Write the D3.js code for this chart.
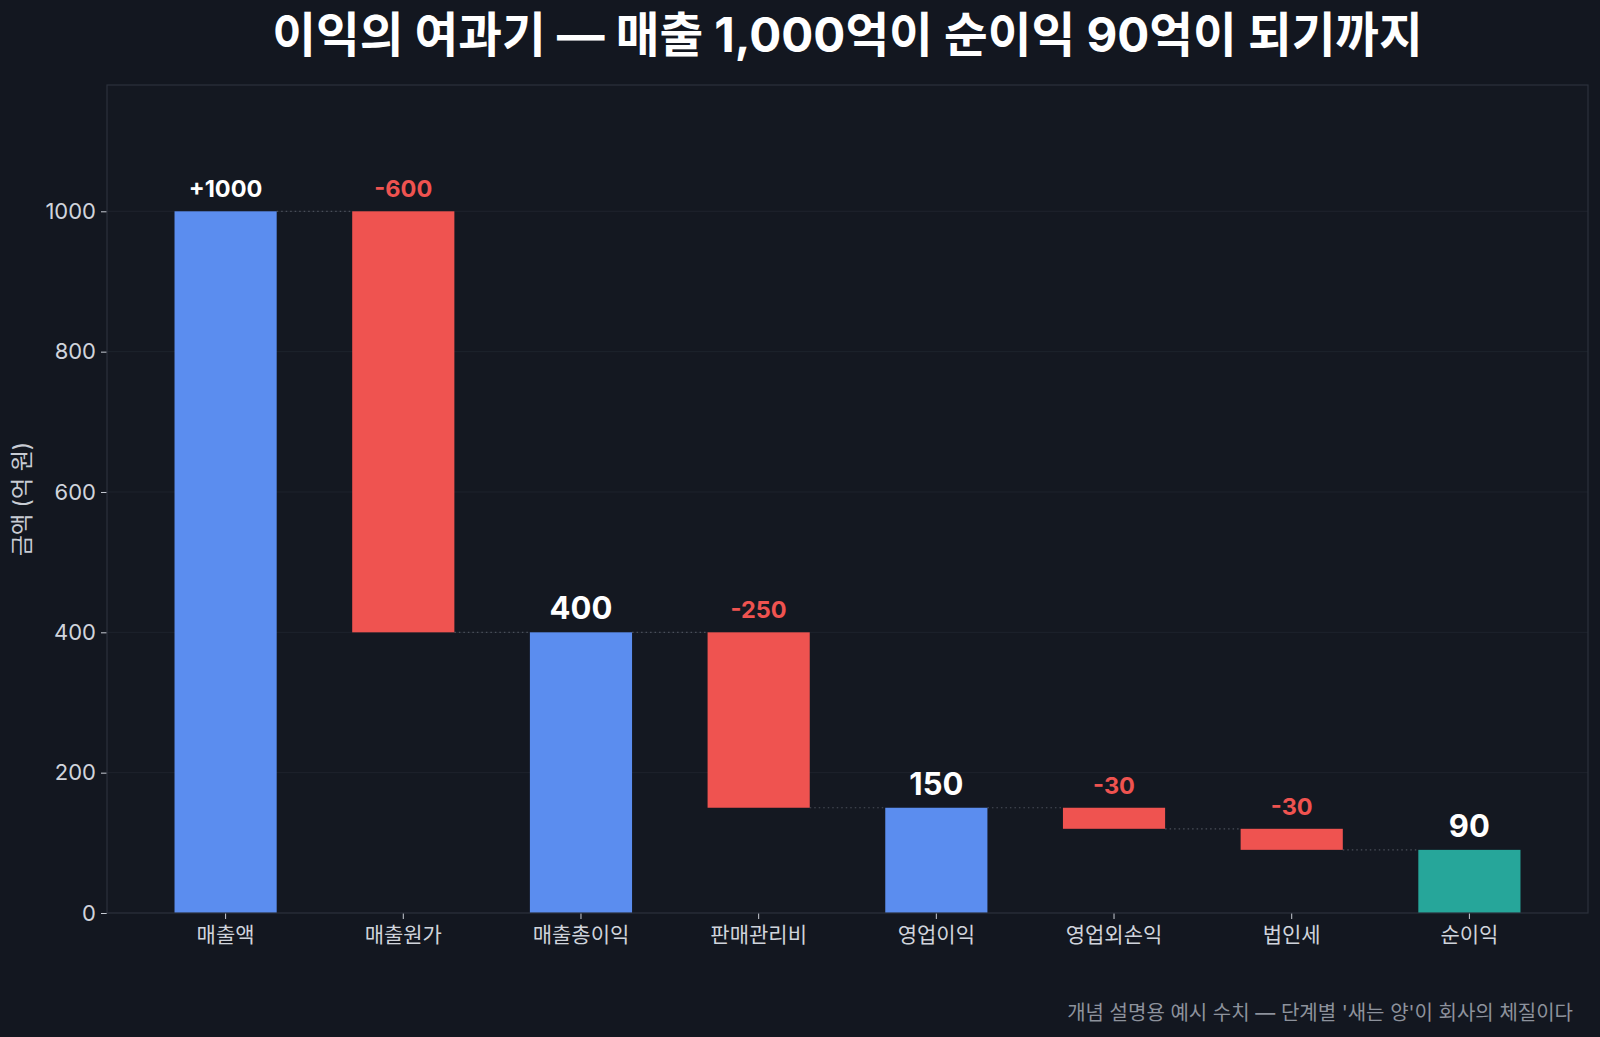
<!DOCTYPE html>
<html><head><meta charset="utf-8">
<script src="https://cdn.jsdelivr.net/npm/d3@7/dist/d3.min.js"></script>
<style>
html,body{margin:0;padding:0;background:#131720;}
svg{display:block;font-family:Inter,"Noto Sans CJK KR","Noto Sans",sans-serif;}
</style></head>
<body>
<svg id="chart" width="1600" height="1037"></svg>
<script>
const categories = ['매출액','매출원가','매출총이익','판매관리비','영업이익','영업외손익','법인세','순이익'];
const values = [1000, -600, 400, -250, 150, -30, -30, 90];
const kinds = ['start','delta','total','delta','total','delta','delta','total'];
const yTicks = [0, 200, 400, 600, 800, 1000];
const yMax = 1180;
const titleText = '이익의 여과기 — 매출 1,000억이 순이익 90억이 되기까지';
const yLabel = '금액 (억 원)';
const footText = "개념 설명용 예시 수치 — 단계별 '새는 양'이 회사의 체질이다";

const FONT = 'Inter,"Noto Sans CJK KR",sans-serif';
const W = 1600, H = 1037;
const m = {l:107, r:1588, t:85, b:913};
const svg = d3.select('#chart');
svg.append('rect').attr('width',W).attr('height',H).attr('fill','#131720');

const x = d3.scaleBand().domain(categories).range([m.l, m.r]).paddingInner(0.425).paddingOuter(0.38);
const y = d3.scaleLinear().domain([0, yMax]).range([m.b, m.t]);

svg.append('rect').attr('x',m.l).attr('y',m.t).attr('width',m.r-m.l).attr('height',m.b-m.t)
  .attr('fill','#141821');

svg.append('g').selectAll('line').data(yTicks.filter(d=>d>0)).join('line')
  .attr('x1',m.l).attr('x2',m.r).attr('y1',d=>y(d)).attr('y2',d=>y(d))
  .attr('stroke','#1e232d').attr('stroke-width',1);

let run = 0;
const bars = categories.map((c,i)=>{
  const v = values[i], k = kinds[i];
  let lo, hi;
  if (k==='start' || k==='total'){ lo=0; hi=v; run=v; }
  else { const nr = run + v; lo=Math.min(run,nr); hi=Math.max(run,nr); run=nr; }
  return {c, v, k, lo, hi, level: run, i};
});

svg.append('g').selectAll('line').data(bars.slice(0,-1)).join('line')
  .attr('x1',d=>x(d.c)+x.bandwidth()).attr('x2',d=>x(categories[d.i+1]))
  .attr('y1',d=>y(d.level)).attr('y2',d=>y(d.level))
  .attr('stroke','#4a4f5a').attr('stroke-width',1.2).attr('stroke-dasharray','1.5,3');

const color = d => d.k==='delta' ? '#ef5350' : (d.i===categories.length-1 ? '#26a69a' : '#5b8def');
svg.append('g').selectAll('rect').data(bars).join('rect')
  .attr('x',d=>x(d.c)).attr('width',x.bandwidth())
  .attr('y',d=>y(d.hi)).attr('height',d=>y(d.lo)-y(d.hi))
  .attr('fill',color);

svg.append('g').selectAll('text').data(bars).join('text')
  .attr('x',d=>x(d.c)+x.bandwidth()/2)
  .attr('y',d=>y(d.hi) - (d.k==='total'?13:14))
  .attr('text-anchor','middle')
  .attr('font-family',FONT)
  .attr('font-weight',700)
  .attr('font-size',d=>d.k==='total'?31:23.5)
  .attr('fill',d=>d.k==='delta'?'#ef5350':'#ffffff')
  .text(d=> d.k==='start' ? '+'+d.v : String(d.v));

const yAxis = d3.axisLeft(y).tickValues(yTicks).tickSize(6).tickPadding(5).tickFormat(d3.format('d'));
const gy = svg.append('g').attr('transform',`translate(${m.l},0)`).call(yAxis);
gy.select('.domain').remove();
gy.selectAll('line').attr('stroke','#c8ccd4');
gy.selectAll('text').attr('fill','#d0d4dc').attr('font-size',22).attr('font-family',FONT);

const xAxis = d3.axisBottom(x).tickSize(6).tickPadding(8);
const gx = svg.append('g').attr('transform',`translate(0,${m.b})`).call(xAxis);
gx.select('.domain').remove();
gx.selectAll('line').attr('stroke','#c8ccd4');
gx.selectAll('text').attr('fill','#d0d4dc').attr('font-size',21).attr('font-family',FONT);

svg.append('rect').attr('x',m.l).attr('y',m.t).attr('width',m.r-m.l).attr('height',m.b-m.t)
  .attr('fill','none').attr('stroke','#2c313c').attr('stroke-width',1.2);

svg.append('text').attr('transform',`translate(30,${(m.t+m.b)/2}) rotate(-90)`)
  .attr('text-anchor','middle').attr('font-family',FONT).attr('fill','#c8ccd4').attr('font-size',23).text(yLabel);

svg.append('text').attr('x',(m.l+m.r)/2).attr('y',52).attr('text-anchor','middle')
  .attr('font-family',FONT)
  .attr('fill','#ffffff').attr('font-weight',700).attr('font-size',47.5).text(titleText);

svg.append('text').attr('x',1573).attr('y',1020).attr('text-anchor','end')
  .attr('font-family',FONT)
  .attr('fill','#8d929c').attr('font-size',20).text(footText);
</script>
</body></html>
